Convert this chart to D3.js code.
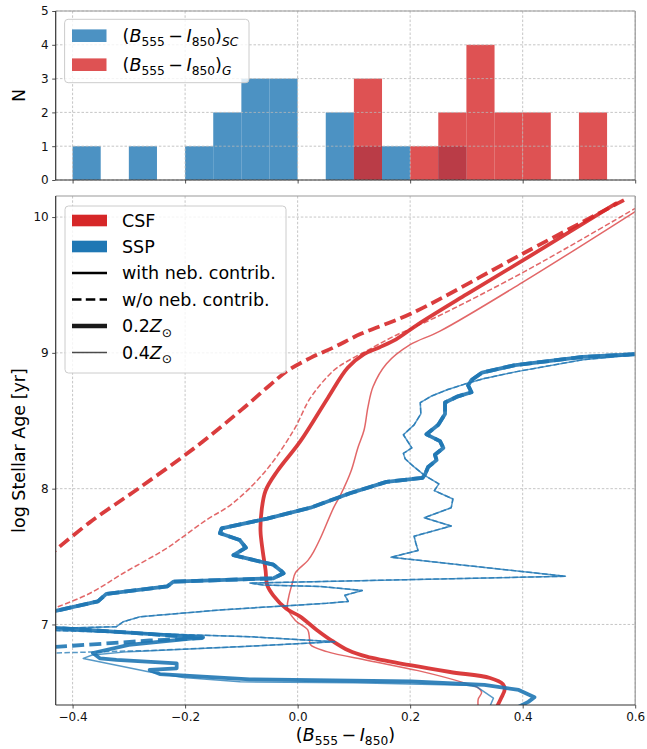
<!DOCTYPE html>
<html><head><meta charset="utf-8">
<script src="https://cdn.jsdelivr.net/npm/d3@7"></script>
<style>body{margin:0;background:#fff} text{font-family:"DejaVu Sans",sans-serif}</style>
</head><body><svg id="c" width="647" height="749"></svg>
<script>
// ---------------- DATA ----------------
const xTicks = [-0.4, -0.2, 0.0, 0.2, 0.4, 0.6];
const nTicks = [0, 1, 2, 3, 4, 5];
const ageTicks = [7, 8, 9, 10];

// histogram: bin starts (width 0.05) and counts
const binStarts = [-0.40,-0.35,-0.30,-0.25,-0.20,-0.15,-0.10,-0.05,0.00,0.05,0.10,0.15,0.20,0.25,0.30,0.35,0.40,0.45,0.50,0.55];
const binWidth = 0.05;
const scCounts = [1,0,1,0,1,2,3,3,0,2,1,1,0,1,0,0,0,0,0,0];
const gCounts  = [0,0,0,0,0,0,0,0,0,0,3,0,1,2,4,2,2,0,2,0];

// model tracks: [colour, log age]
const csf02Neb = [[0.566,10.10],[0.404,9.69],[0.30,9.43],[0.214,9.21],[0.175,9.10],[0.145,9.04],[0.118,8.99],[0.089,8.89],[0.054,8.67],[0.005,8.35],[-0.036,8.13],[-0.057,7.985],[-0.064,7.84],[-0.066,7.69],[-0.062,7.54],[-0.057,7.40],[-0.054,7.29],[-0.043,7.213],[-0.02,7.115],[0.004,7.06],[0.034,6.96],[0.063,6.875],[0.09,6.81],[0.123,6.763],[0.2,6.70],[0.271,6.65],[0.342,6.606],[0.365,6.56],[0.368,6.52],[0.362,6.46],[0.355,6.40]];
const csf02NoNeb = [[0.58,10.125],[0.40,9.73],[0.202,9.29],[0.1125,9.14],[0.064,9.04],[0.023,8.963],[-0.018,8.868],[-0.05,8.76],[-0.10,8.58],[-0.18,8.31],[-0.28,8.01],[-0.37,7.75],[-0.45,7.48]];
const csf04Neb = [[0.615,10.08],[0.404,9.53],[0.253,9.16],[0.20,9.06],[0.158,8.92],[0.134,8.75],[0.125,8.60],[0.118,8.43],[0.107,8.30],[0.095,8.13],[0.077,7.96],[0.064,7.86],[0.041,7.64],[0.029,7.54],[0.018,7.47],[-0.004,7.38],[-0.009,7.31],[-0.016,7.20],[-0.018,7.12],[-0.004,7.03],[0.018,6.96],[0.021,6.90],[0.023,6.85],[0.052,6.80],[0.125,6.735],[0.214,6.66],[0.296,6.57],[0.322,6.53],[0.327,6.50],[0.321,6.45],[0.321,6.39]];
const csf04NoNeb = [[0.615,10.10],[0.404,9.60],[0.243,9.257],[0.17,9.12],[0.125,9.02],[0.089,8.94],[0.064,8.87],[0.023,8.67],[-0.007,8.43],[-0.057,8.13],[-0.116,7.89],[-0.162,7.77],[-0.209,7.63],[-0.233,7.56],[-0.31,7.377],[-0.369,7.23],[-0.426,7.13],[-0.45,7.09]];

const ssp02Old = [[0.66,9.005],[0.60,8.99],[0.507,8.97],[0.387,8.91],[0.328,8.855],[0.309,8.80],[0.303,8.76],[0.309,8.71],[0.285,8.68],[0.262,8.635],[0.262,8.55],[0.25,8.47],[0.229,8.40],[0.253,8.35],[0.259,8.30],[0.244,8.25],[0.247,8.21],[0.232,8.16],[0.226,8.10],[0.222,8.08],[0.158,8.05],[0.093,7.966],[0.023,7.86],[-0.054,7.78],[-0.135,7.708],[-0.138,7.672],[-0.103,7.622],[-0.092,7.565],[-0.114,7.51],[-0.079,7.475],[-0.043,7.44],[-0.028,7.39],[-0.025,7.377],[-0.043,7.34],[-0.221,7.315],[-0.232,7.28],[-0.340,7.225],[-0.355,7.17],[-0.43,7.10],[-0.50,7.03],[-0.43,6.975],[-0.28,6.935]];
const ssp02NebYoung = [[-0.168,6.905],[-0.30,6.85],[-0.364,6.79],[-0.351,6.75],[-0.322,6.74],[-0.215,6.714],[-0.215,6.677],[-0.263,6.665],[-0.245,6.635],[-0.085,6.596],[0.202,6.58],[0.332,6.555],[0.393,6.518],[0.421,6.464],[0.41,6.43],[0.393,6.395]];
const ssp02NoNebYoung = [[-0.17,6.90],[-0.263,6.882],[-0.34,6.86],[-0.423,6.837],[-0.5,6.815]];

const ssp04Old = [[0.66,9.0],[0.60,8.985],[0.507,8.95],[0.387,8.86],[0.33,8.81],[0.297,8.77],[0.267,8.73],[0.237,8.68],[0.218,8.634],[0.219,8.55],[0.207,8.47],[0.188,8.397],[0.203,8.30],[0.188,8.26],[0.191,8.22],[0.207,8.16],[0.225,8.10],[0.251,8.035],[0.243,7.986],[0.276,7.924],[0.273,7.86],[0.225,7.786],[0.273,7.725],[0.207,7.65],[0.21,7.60],[0.214,7.545],[0.166,7.495],[0.476,7.355],[-0.085,7.305],[-0.061,7.29],[0.04,7.28],[0.115,7.25],[0.084,7.215],[0.09,7.17],[0.052,7.156],[0.004,7.144],[-0.138,7.107],[-0.28,7.057],[-0.31,7.02],[-0.322,6.984],[-0.46,6.968],[-0.43,6.955],[-0.085,6.91],[0.066,6.873],[-0.085,6.84]];
const ssp04NebYoung = [[-0.30,6.80],[-0.365,6.775],[-0.381,6.75],[-0.322,6.70],[-0.263,6.65],[-0.203,6.61],[-0.102,6.578],[0.10,6.57],[0.30,6.552],[0.318,6.542],[0.348,6.457],[0.342,6.40]];
const ssp04NoNebYoung = [[-0.25,6.81],[-0.43,6.79],[-0.5,6.785]];

// ---------------- DRAW ----------------
const svg = d3.select("#c");
const L = 55.7, R = 635.2;
const T1 = 11, B1 = 180, T2 = 196, B2 = 705;
const x = d3.scaleLinear().domain([-0.43, 0.6]).range([L, R]);
const yN = d3.scaleLinear().domain([0, 5]).range([B1, T1]);
const yA = d3.scaleLinear().domain([6.407, 10.155]).range([B2, T2]);

const blue = "#1f77b4", red = "#d62728";
const defs = svg.append("defs");
defs.append("clipPath").attr("id","cp1").append("rect").attr("x",L).attr("y",T1).attr("width",R-L).attr("height",B1-T1);
defs.append("clipPath").attr("id","cp2").append("rect").attr("x",L).attr("y",T2).attr("width",R-L).attr("height",B2-T2);

function grid(g, yScale, yt, T, B) {
  g.selectAll(".gx").data(xTicks).join("line")
    .attr("x1", d=>x(d)).attr("x2", d=>x(d)).attr("y1", T).attr("y2", B)
    .attr("stroke","#b8b8b8").attr("stroke-width",0.8).attr("stroke-dasharray","2.5,1.8");
  g.selectAll(".gy").data(yt).join("line")
    .attr("x1", L).attr("x2", R).attr("y1", d=>yScale(d)).attr("y2", d=>yScale(d))
    .attr("stroke","#b8b8b8").attr("stroke-width",0.8).attr("stroke-dasharray","2.5,1.8");
}

// ---- top panel: histogram
const topG = svg.append("g");
const bars = topG.append("g").attr("clip-path","url(#cp1)");
bars.selectAll(".sc").data(binStarts.map((b,i)=>({b, n:scCounts[i]})).filter(d=>d.n>0)).join("rect")
  .attr("x", d=>x(d.b)).attr("width", d=>x(d.b+binWidth)-x(d.b))
  .attr("y", d=>yN(d.n)).attr("height", d=>yN(0)-yN(d.n))
  .attr("fill", blue).attr("fill-opacity",0.8);
bars.selectAll(".g").data(binStarts.map((b,i)=>({b, n:gCounts[i]})).filter(d=>d.n>0)).join("rect")
  .attr("x", d=>x(d.b)).attr("width", d=>x(d.b+binWidth)-x(d.b))
  .attr("y", d=>yN(d.n)).attr("height", d=>yN(0)-yN(d.n))
  .attr("fill", red).attr("fill-opacity",0.8);
grid(topG.append("g"), yN, nTicks, T1, B1);

// ---- bottom panel: tracks
const botG = svg.append("g");
grid(botG.append("g"), yA, ageTicks, T2, B2);
const plot = botG.append("g").attr("clip-path","url(#cp2)");
const lineSmooth = d3.line().x(d=>x(d[0])).y(d=>yA(d[1])).curve(d3.curveCatmullRom.alpha(0.5));
const lineLin = d3.line().x(d=>x(d[0])).y(d=>yA(d[1]));
function track(data, gen, color, w, op, dash) {
  plot.append("path").attr("d", gen(data)).attr("fill","none")
    .attr("stroke", color).attr("stroke-width", w).attr("stroke-opacity", op)
    .attr("stroke-linejoin","round").attr("stroke-linecap", dash ? "butt" : "round")
    .attr("stroke-dasharray", dash || null);
}
track(csf04Neb, lineSmooth, red, 1.5, 0.7, null);
track(csf04NoNeb, lineSmooth, red, 1.5, 0.7, "5.5,2.4");
track(csf02Neb, lineSmooth, red, 3.8, 0.9, null);
track(csf02NoNeb, lineSmooth, red, 3.8, 0.9, "12,5.2");
track(ssp04Old.concat(ssp04NebYoung), lineLin, blue, 1.5, 0.75, null);
track(ssp04Old.concat(ssp04NoNebYoung), lineLin, blue, 1.5, 0.75, "5.5,2.4");
track(ssp02Old.concat(ssp02NebYoung), lineLin, blue, 3.8, 0.9, null);
track(ssp02Old.concat(ssp02NoNebYoung), lineLin, blue, 3.8, 0.9, "12,5.2");

// ---- axes
function axes(T, B, yScale, yt, showX) {
  const gx = svg.append("g").attr("transform", `translate(0,${B})`)
    .call(d3.axisBottom(x).tickValues(xTicks).tickSize(3.5).tickPadding(3.5)
      .tickFormat(showX ? d3.format(".1f") : ""));
  const gy = svg.append("g").attr("transform", `translate(${L},0)`)
    .call(d3.axisLeft(yScale).tickValues(yt).tickSize(3.5).tickPadding(3.5).tickFormat(d3.format("d")));
  [gx, gy].forEach(g => {
    g.select(".domain").remove();
    g.selectAll("line").attr("stroke","#222").attr("stroke-width",0.8);
    g.selectAll("text").attr("font-size",12).attr("fill","#111").attr("font-family","DejaVu Sans");
  });
  svg.append("line").attr("x1",L).attr("x2",R).attr("y1",T).attr("y2",T).attr("stroke","#999").attr("stroke-width",1.2);
  svg.append("line").attr("x1",R).attr("x2",R).attr("y1",T).attr("y2",B).attr("stroke","#999").attr("stroke-width",1.2);
  svg.append("line").attr("x1",L).attr("x2",L).attr("y1",T).attr("y2",B).attr("stroke","#333").attr("stroke-width",1.2);
  svg.append("line").attr("x1",L).attr("x2",R).attr("y1",B).attr("y2",B).attr("stroke","#333").attr("stroke-width",1.2);
}
axes(T1, B1, yN, nTicks, false);
axes(T2, B2, yA, ageTicks, true);

// ---- math text helper
const FS = 17.5;
function mathText(sel, parts) {
  let down = false;
  parts.forEach(p => {
    const t = sel.append("tspan").text(p.t);
    if (p.it) t.attr("font-style","italic");
    if (p.sub && !down) { t.attr("dy", FS*0.24).attr("font-size", FS*0.7); down = true; }
    else if (p.sub) { t.attr("font-size", FS*0.7); }
    else if (!p.sub && down) { t.attr("dy", -FS*0.24); down = false; }
  });
}
const colorParts = [{t:"("},{t:"B",it:true},{t:"555",sub:true},{t:"\u2009\u2212\u2009"},{t:"I",it:true},{t:"850",sub:true},{t:")"}];

// labels
svg.append("text").attr("transform",`translate(19,${(T1+B1)/2}) rotate(-90)`)
  .attr("text-anchor","middle").attr("dy","0.36em").attr("font-size",FS).text("N");
svg.append("text").attr("transform",`translate(19,${(T2+B2)/2}) rotate(-90)`)
  .attr("text-anchor","middle").attr("dy","0.36em").attr("font-size",FS).text("log Stellar Age [yr]");
mathText(svg.append("text").attr("x",(L+R)/2).attr("y",741).attr("text-anchor","middle").attr("font-size",FS), colorParts);

// ---- legend 1
const lg1 = svg.append("g");
lg1.append("rect").attr("x",64.6).attr("y",19.3).attr("width",184.4).attr("height",63.4).attr("rx",3.5)
  .attr("fill","#fff").attr("fill-opacity",0.8).attr("stroke","#cccccc").attr("stroke-width",1);
const leg1 = [{c:blue, s:"SC", cy:35.7},{c:red, s:"G", cy:64.7}];
leg1.forEach(d => {
  lg1.append("rect").attr("x",72).attr("y",d.cy-6.3).attr("width",34.5).attr("height",12.6).attr("fill",d.c).attr("fill-opacity",0.8);
  const t = lg1.append("text").attr("x",122.6).attr("y",d.cy+6.4).attr("font-size",FS);
  mathText(t, colorParts.concat([{t:d.s, it:true, sub:true}]));
});

// ---- legend 2
const lg2 = svg.append("g");
lg2.append("rect").attr("x",65).attr("y",206).attr("width",221).attr("height",167).attr("rx",3.5)
  .attr("fill","#fff").attr("fill-opacity",0.8).attr("stroke","#cccccc").attr("stroke-width",1);
const rows = [220.5, 246.5, 273, 299.5, 326, 352.5];
[[red,"CSF"],[blue,"SSP"]].forEach((d,i) => {
  lg2.append("rect").attr("x",72).attr("y",rows[i]-5.8).attr("width",35).attr("height",11.6).attr("fill",d[0]);
  lg2.append("text").attr("x",122).attr("y",rows[i]+6.4).attr("font-size",FS).text(d[1]);
});
const lineRows = [
  {w:2.7, dash:null, op:1, lab:[{t:"with neb. contrib."}]},
  {w:2.7, dash:"9.5,4.3", op:1, lab:[{t:"w/o neb. contrib."}]},
  {w:4.4, dash:null, op:0.9, lab:[{t:"0.2"},{t:"Z",it:true},{t:"\u2299",sub:true}]},
  {w:1.6, dash:null, op:0.7, lab:[{t:"0.4"},{t:"Z",it:true},{t:"\u2299",sub:true}]}
];
lineRows.forEach((d,i) => {
  const cy = rows[i+2];
  lg2.append("line").attr("x1",72).attr("x2",107).attr("y1",cy).attr("y2",cy)
    .attr("stroke","#000").attr("stroke-opacity",d.op).attr("stroke-width",d.w).attr("stroke-dasharray",d.dash);
  mathText(lg2.append("text").attr("x",122).attr("y",cy+6.4).attr("font-size",FS), d.lab);
});
</script></body></html>
